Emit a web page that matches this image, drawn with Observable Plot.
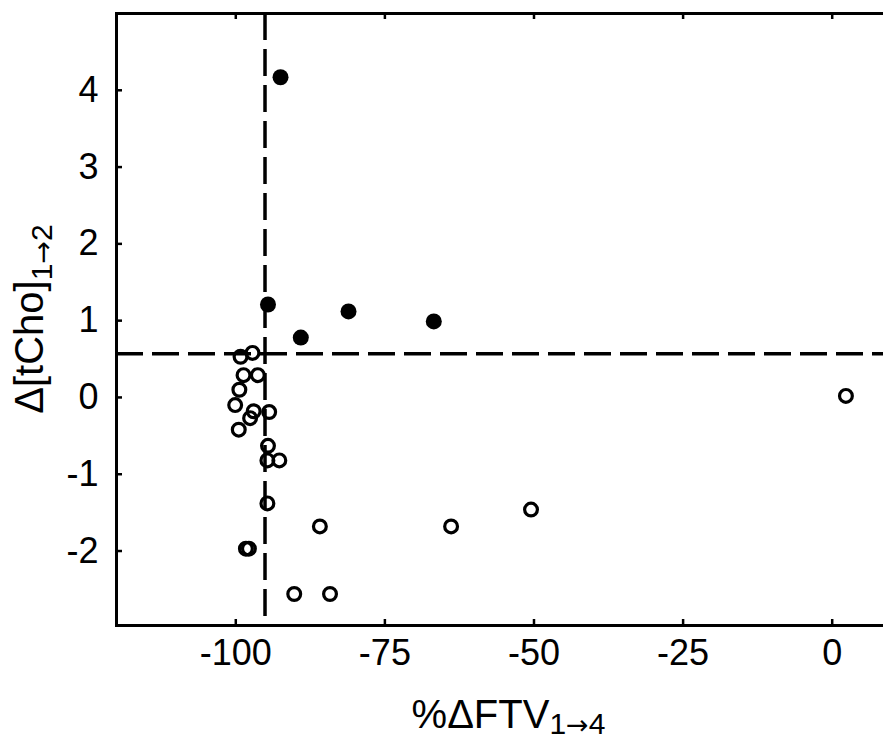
<!DOCTYPE html>
<html><head><meta charset="utf-8">
<script src="https://cdn.jsdelivr.net/npm/d3@7"></script>
<script src="https://cdn.jsdelivr.net/npm/@observablehq/plot@0.6"></script>
<style>body{margin:0;background:#fff} svg{display:block}</style>
</head><body><div id="chart"></div>
<script>
// Filled circles (responders)
const filledX = [-92.5, -94.6, -89.1, -81.1, -66.8];
const filledY = [4.17, 1.21, 0.78, 1.12, 0.99];
// Open circles
const openX = [-99.2, -97.2, -98.7, -96.3, -99.4, -100.1, -97.6, -97.0, -94.4, -99.5, -94.6, -94.7, -92.7, -94.7, -85.9, -98.3, -97.8, -90.2, -84.2, -63.9, -50.5, 2.3];
const openY = [0.53, 0.58, 0.29, 0.29, 0.10, -0.10, -0.27, -0.18, -0.19, -0.42, -0.63, -0.82, -0.82, -1.38, -1.68, -1.97, -1.97, -2.56, -2.56, -1.68, -1.46, 0.02];
// Thresholds (dashed lines)
const xThreshold = [-95.1];
const yThreshold = [0.57];
// Ticks
const xTicks = [-100, -75, -50, -25, 0];
const yTicks = [-2, -1, 0, 1, 2, 3, 4];
const xDomain = [-120, 8.6];
const yDomain = [-2.97, 5.0];

const filled = filledX.map((x, i) => ({x, y: filledY[i]}));
const open = openX.map((x, i) => ({x, y: openY[i]}));

const W = 883, H = 741, mL = 116, mT = 13, mR = 0, mB = 116;
const font = "'Liberation Sans', Arial, sans-serif";
const arrowFont = "'DejaVu Sans', sans-serif";

const plot = Plot.plot({
  width: W, height: H,
  marginLeft: mL, marginTop: mT, marginRight: mR, marginBottom: mB,
  style: {fontFamily: font, background: "white", color: "black"},
  x: {domain: xDomain, ticks: xTicks, label: null},
  y: {domain: yDomain, ticks: yTicks, label: null},
  marks: [
    Plot.ruleX(xThreshold, {stroke: "black", strokeWidth: 3.5, strokeDasharray: "27,9"}),
    Plot.ruleY(yThreshold, {stroke: "black", strokeWidth: 3.5, strokeDasharray: "27,9"}),
    Plot.frame({stroke: "black", strokeWidth: 3, insetRight: -8}),
    Plot.tickX(xTicks, {x: d => d, stroke: "black", strokeWidth: 2.5, insetTop: H - mT - mB - 6}),
    Plot.tickX(xTicks, {x: d => d, stroke: "black", strokeWidth: 2.5, insetBottom: H - mT - mB - 6}),
    Plot.tickY(yTicks, {y: d => d, stroke: "black", strokeWidth: 2.5, insetRight: W - mL - mR - 6}),
    Plot.axisX(xTicks, {tickSize: 0, tickPadding: 14, fontSize: 36, tickFormat: d => String(d), label: null}),
    Plot.axisY(yTicks, {tickSize: 0, tickPadding: 18, fontSize: 36, tickFormat: d => String(d), label: null}),
    Plot.dot(open, {x: "x", y: "y", r: 6.4, stroke: "black", strokeWidth: 3.2, fill: "none"}),
    Plot.dot(filled, {x: "x", y: "y", r: 8, fill: "black", stroke: "none"})
  ]
});

const svg = d3.select(plot);
// X axis title
const xt = svg.append("text")
  .attr("x", (mL + W) / 2 + 9).attr("y", 728)
  .attr("text-anchor", "middle")
  .attr("font-family", font).attr("font-size", 40).attr("fill", "black");
xt.append("tspan").text("%ΔFTV");
xt.append("tspan").attr("font-size", 30).attr("dy", 6).text("1");
xt.append("tspan").attr("font-size", 27).attr("font-family", arrowFont).text("→");
xt.append("tspan").attr("font-size", 30).text("4");

// Y axis title
const yt = svg.append("text")
  .attr("transform", `translate(43,${(mT + H - mB) / 2}) rotate(-90)`)
  .attr("text-anchor", "middle")
  .attr("font-family", font).attr("font-size", 40).attr("fill", "black");
yt.append("tspan").text("Δ[tCho]");
yt.append("tspan").attr("font-size", 30).attr("dy", 9).text("1");
yt.append("tspan").attr("font-size", 27).attr("font-family", arrowFont).text("→");
yt.append("tspan").attr("font-size", 30).text("2");

document.getElementById("chart").appendChild(plot);
</script>
</body></html>
